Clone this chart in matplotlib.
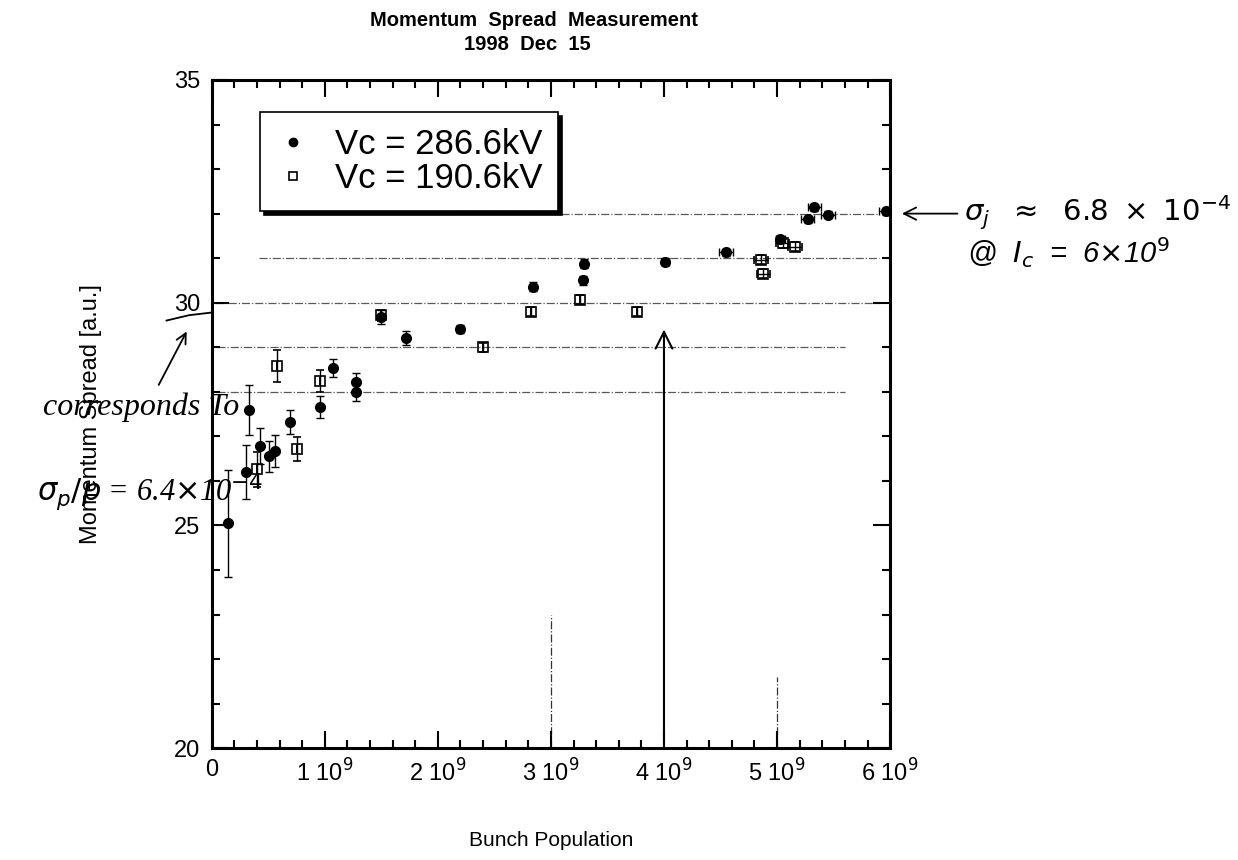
import matplotlib
matplotlib.use('Agg')
import matplotlib.pyplot as plt
from matplotlib.lines import Line2D
from matplotlib.ticker import MultipleLocator, FuncFormatter

plt.rcParams['font.family'] = ['Liberation Sans', 'DejaVu Sans']

# Vc = 286.6 kV (filled circles), bunch population in units of 1e9
x_hi = [0.14, 0.30, 0.33, 0.43, 0.51, 0.56, 0.69, 0.96, 1.07, 1.28, 1.28, 1.50,
        1.72, 2.20, 2.84, 3.28, 3.29, 4.01, 4.55, 5.03, 5.27, 5.33, 5.45, 5.96]
y_hi = [25.05, 26.2, 27.6, 26.78, 26.55, 26.67, 27.32, 27.66, 28.54, 28.22, 28.0, 29.68,
        29.21, 29.41, 30.36, 30.50, 30.88, 30.92, 31.13, 31.42, 31.87, 32.14, 31.98, 32.05]
yerr_hi = [1.2, 0.6, 0.56, 0.4, 0.35, 0.35, 0.27, 0.25, 0.2, 0.2, 0.2, 0.15,
           0.15, 0.1, 0.1, 0.1, 0.1, 0.08, 0.08, 0.08, 0.08, 0.08, 0.08, 0.08]
xerr_hi = [0, 0, 0, 0, 0, 0, 0, 0, 0, 0, 0, 0,
           0, 0, 0, 0, 0, 0.03, 0.06, 0.04, 0.06, 0.06, 0.06, 0.06]

# Vc = 190.6 kV (open squares)
x_lo = [0.40, 0.575, 0.75, 0.96, 1.50, 2.40, 2.82, 3.26, 3.76, 4.86, 4.88, 5.05, 5.16]
y_lo = [26.26, 28.58, 26.71, 28.24, 29.72, 29.0, 29.8, 30.07, 29.8, 30.97, 30.65, 31.33, 31.26]
yerr_lo = [0.4, 0.35, 0.27, 0.25, 0.12, 0.1, 0.1, 0.1, 0.1, 0.1, 0.1, 0.1, 0.1]
xerr_lo = [0, 0, 0, 0, 0, 0, 0, 0, 0, 0.06, 0.06, 0.06, 0.06]

# hand drawn guide lines: level, x start, x end (1e9)
guide_y = [32, 31, 30, 29, 28]
guide_x0 = [2.15, 0.42, 0.03, 0.05, 0.05]
guide_x1 = [5.9, 5.9, 5.9, 5.6, 5.6]

E9 = 1e9
fig = plt.figure(figsize=(12.38, 8.6), dpi=100)
ax = fig.add_axes([0.171, 0.130, 0.548, 0.777])

for yy, a, b in zip(guide_y, guide_x0, guide_x1):
    ax.plot([a * E9, b * E9], [yy, yy], color='0.35', lw=0.9, ls='-.', zorder=1)
ax.plot([3 * E9, 3 * E9], [20, 23.0], color='0.2', lw=0.9, ls='-.', zorder=1)
ax.plot([5 * E9, 5 * E9], [20, 21.6], color='0.2', lw=0.9, ls='-.', zorder=1)

ax.errorbar([v * E9 for v in x_hi], y_hi, yerr=yerr_hi, xerr=[v * E9 for v in xerr_hi],
            fmt='o', color='black', ms=7, capsize=3, elinewidth=1, zorder=3)
ax.errorbar([v * E9 for v in x_lo], y_lo, yerr=yerr_lo, xerr=[v * E9 for v in xerr_lo],
            fmt='s', color='black', mfc='none', ms=7, mew=1.2, capsize=3, elinewidth=1,
            zorder=3)

ax.set_xlim(0, 6 * E9)
ax.set_ylim(20, 35)
ax.xaxis.set_major_locator(MultipleLocator(E9))
ax.xaxis.set_minor_locator(MultipleLocator(0.2 * E9))
ax.yaxis.set_major_locator(MultipleLocator(5))
ax.yaxis.set_minor_locator(MultipleLocator(1))
ax.xaxis.set_major_formatter(FuncFormatter(
    lambda v, p: '0' if v == 0 else '%d 10$^9$' % round(v / E9)))
ax.tick_params(which='both', direction='in', top=True, right=True, width=1.5)
ax.tick_params(which='major', length=12, labelsize=17, pad=8)
ax.tick_params(which='minor', length=6)
for s in ax.spines.values():
    s.set_linewidth(2.2)

ax.set_xlabel('Bunch Population', fontsize=15, labelpad=32)
ax.set_ylabel('Momentum Spread [a.u.]', fontsize=17, labelpad=52)

fig.text(0.431, 1 - 20 / 860, 'Momentum  Spread  Measurement', ha='center', va='center',
         fontsize=14.5, fontweight='bold')
fig.text(0.426, 1 - 45 / 860, '1998  Dec  15', ha='center', va='center',
         fontsize=14.5, fontweight='bold')

handles = [Line2D([], [], ls='none', marker='o', color='black', ms=6),
           Line2D([], [], ls='none', marker='s', color='black', mfc='none', ms=6, mew=1.2)]
leg = ax.legend(handles, ['Vc = 286.6kV', 'Vc = 190.6kV'], loc='upper left',
                bbox_to_anchor=(0.071, 0.952), borderaxespad=0,
                fontsize=25, frameon=True, fancybox=False, handlelength=1.0,
                handletextpad=0.7, borderpad=0.45, labelspacing=0.05,
                shadow={'color': 'black', 'alpha': 1, 'ox': 3, 'oy': -3})
leg.get_frame().set_edgecolor('black')
leg.get_frame().set_linewidth(1.2)

# handwritten notes
ax.annotate('', xy=(4.0 * E9, 29.46), xytext=(4.0 * E9, 20.0),
            arrowprops=dict(arrowstyle='->', lw=1.5, color='black',
                            mutation_scale=30), zorder=2)
ax.annotate('', xy=(6.08 * E9, 32.0), xytext=(6.62 * E9, 32.0),
            arrowprops=dict(arrowstyle='->', lw=1.3, color='black', mutation_scale=22),
            annotation_clip=False)
fig.text(0.779, 1 - 213 / 860, r'$\sigma_j\ \ \approx\ \ 6.8\ \times\ 10^{-4}$',
         fontsize=21, va='center')
fig.text(0.781, 1 - 253 / 860, r'@  $I_c$  =  6$\times$10$^9$',
         fontsize=21, va='center', style='italic')

ax.annotate('', xy=(-0.21 * E9, 29.41), xytext=(-0.48 * E9, 28.1),
            arrowprops=dict(arrowstyle='->', lw=1.3, color='black', mutation_scale=18),
            annotation_clip=False)
ax.plot([-0.4 * E9, -0.2 * E9, 0.0], [29.6, 29.72, 29.78], color='black', lw=1.3,
        clip_on=False)
fig.text(0.035, 1 - 407 / 860, 'corresponds To', fontsize=23, va='center',
         style='italic', family=['Liberation Serif', 'DejaVu Serif'])
fig.text(0.03, 1 - 492 / 860, r'$\sigma_p/p$ = 6.4$\times$10$^{-4}$', fontsize=22,
         va='center', style='italic', family=['Liberation Serif', 'DejaVu Serif'])

fig.savefig('out.png', dpi=100)
